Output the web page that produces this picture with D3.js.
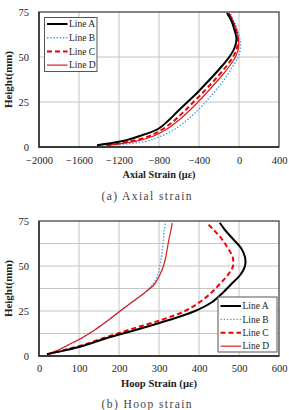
<!DOCTYPE html>
<html><head><meta charset="utf-8">
<script src="https://cdn.jsdelivr.net/npm/d3@7/dist/d3.min.js"></script>
<style>
html,body{margin:0;padding:0;background:#fff;}
svg{display:block;}
svg text{font-family:'Liberation Serif','Tinos','DejaVu Serif',serif !important;}
</style></head>
<body>
<svg id="c" width="289" height="410"></svg>
<script>
// ---- data ----
const seriesNames = ["Line A", "Line B", "Line C", "Line D"];

const axialHeights = [1, 3, 6, 10, 15, 20, 25, 30, 35, 40, 45, 50, 55, 60, 65, 70, 74.5];
const axialA = [-1420, -1190, -1000, -810, -700, -610, -515, -420, -335, -250, -170, -97, -45, -25, -45, -75, -120];
const axialB = [-1290, -940, -780, -640, -520, -420, -335, -255, -180, -115, -60, -8, 15, 10, -15, -50, -90];
const axialC = [-1320, -1100, -900, -760, -640, -545, -455, -365, -280, -200, -125, -60, -20, -12, -30, -65, -105];
const axialD = [-1330, -1050, -860, -720, -600, -500, -410, -325, -245, -165, -95, -35, -5, -5, -25, -60, -100];

const hoopHeights = [1, 3, 6, 10, 15, 20, 25, 30, 35, 40, 45, 50, 55, 60, 65, 70, 74];
const hoopA = [20, 62, 115, 170, 250, 325, 390, 433, 459, 481, 503, 515, 515, 505, 485, 465, 452];
const hoopB = [20, 45, 72, 107, 143, 174, 203, 233, 263, 285, 297, 302, 306, 309, 311, 313, 316];
const hoopC = [20, 58, 108, 162, 232, 305, 365, 402, 430, 452, 472, 485, 484, 472, 457, 437, 419];
const hoopD = [20, 45, 72, 107, 143, 174, 203, 233, 263, 289, 302, 311, 317, 321, 325, 330, 333];

const axialXTicks = [-2000, -1600, -1200, -800, -400, 0, 400];
const hoopXTicks = [0, 100, 200, 300, 400, 500, 600];
const heightTicks = [0, 25, 50, 75];
const hoopMinorY = [12.5, 25, 37.5, 50, 62.5];
const axialGridY = [25, 50];

// ---- styles ----
const styles = {
  "Line A": {stroke: "#000", width: 2, dash: null},
  "Line B": {stroke: "#4a9ad6", width: 1.4, dash: "1.4,1.8"},
  "Line C": {stroke: "#f00000", width: 2, dash: "5,3"},
  "Line D": {stroke: "#d81e1e", width: 1.2, dash: null}
};

const svg = d3.select("#c");
svg.append("rect").attr("width", 289).attr("height", 410).attr("fill", "#fff");

function chart(cfg) {
  const g = svg.append("g");
  const x = d3.scaleLinear().domain(cfg.xDomain).range([39, 279]);
  const y = d3.scaleLinear().domain([0, 75]).range([cfg.bottom, cfg.top]);

  g.selectAll(".vg").data(cfg.xTicks.slice(1, -1)).enter().append("line")
    .attr("x1", d => x(d)).attr("x2", d => x(d))
    .attr("y1", cfg.top).attr("y2", cfg.bottom)
    .attr("stroke", "#c4c4c4").attr("stroke-width", 1);
  g.selectAll(".hg").data(cfg.gridY).enter().append("line")
    .attr("x1", 39).attr("x2", 279)
    .attr("y1", d => y(d)).attr("y2", d => y(d))
    .attr("stroke", "#c4c4c4").attr("stroke-width", 1);

  const xa = g.append("g").attr("transform", `translate(0,${cfg.bottom})`)
    .call(d3.axisBottom(x).tickValues(cfg.xTicks).tickSize(0).tickPadding(cfg.xPad).tickFormat(d3.format("d")));
  xa.select(".domain").remove();
  xa.attr("font-family", null).attr("font-size", null);
  xa.selectAll("text").attr("font-size", 10.5).attr("fill", "#222");
  const ya = g.append("g").attr("transform", "translate(39,0)")
    .call(d3.axisLeft(y).tickValues(heightTicks).tickSize(0).tickPadding(10).tickFormat(d3.format("d")));
  ya.select(".domain").remove();
  ya.attr("font-family", null).attr("font-size", null);
  ya.selectAll("text").attr("font-size", 10.5).attr("fill", "#222");

  const line = d3.line().x(d => x(d[0])).y(d => y(d[1])).curve(d3.curveCatmullRom.alpha(0.5));
  const order = ["Line B", "Line D", "Line C", "Line A"];
  order.forEach(name => {
    const vals = cfg.series[name];
    const pts = vals.map((v, i) => [v, cfg.heights[i]]);
    const s = styles[name];
    g.append("path").attr("d", line(pts)).attr("fill", "none")
      .attr("stroke", s.stroke).attr("stroke-width", s.width)
      .attr("stroke-dasharray", s.dash);
  });

  g.append("rect").attr("x", 39).attr("y", cfg.top).attr("width", 240).attr("height", cfg.bottom - cfg.top)
    .attr("fill", "none").attr("stroke", "#444").attr("stroke-width", 1.3);
  g.append("path").attr("d", `M39,${cfg.top}V${cfg.bottom}H279`).attr("fill", "none")
    .attr("stroke", "#222").attr("stroke-width", 1.3);

  g.append("text").attr("x", 159).attr("y", cfg.xTitleY).attr("text-anchor", "middle")
    .attr("font-size", 10.5).attr("font-weight", "bold").attr("fill", "#222")
    .attr("textLength", cfg.xTitleLen).attr("lengthAdjust", "spacingAndGlyphs")
    .text(cfg.xTitle);
  g.append("text").attr("transform", `translate(12,${(cfg.top + cfg.bottom) / 2}) rotate(-90)`)
    .attr("text-anchor", "middle").attr("font-size", 11).attr("font-weight", "bold").attr("fill", "#222")
    .attr("textLength", 57).attr("lengthAdjust", "spacingAndGlyphs")
    .text("Height(mm)");

  g.append("text").attr("x", 101.5).attr("y", cfg.capY)
    .attr("font-size", 11.5).attr("fill", "#444")
    .attr("textLength", 90).attr("lengthAdjust", "spacing")
    .text(cfg.caption);

  const L = cfg.legend;
  g.append("rect").attr("x", L.x).attr("y", L.y).attr("width", L.w).attr("height", L.h)
    .attr("fill", "#fff").attr("stroke", "#555").attr("stroke-width", 1);
  seriesNames.forEach((name, i) => {
    const yy = L.y + L.first + i * L.step;
    const s = styles[name];
    g.append("line").attr("x1", L.x + 2.5).attr("x2", L.x + 23).attr("y1", yy).attr("y2", yy)
      .attr("stroke", s.stroke).attr("stroke-width", s.width).attr("stroke-dasharray", s.dash);
    g.append("text").attr("x", L.x + 24.5).attr("y", yy + 3.2).attr("font-size", 9.5).attr("fill", "#222")
      .text(name);
  });
}

chart({
  xDomain: [-2000, 400], xTicks: axialXTicks, top: 12, bottom: 147, xPad: 9.5,
  gridY: axialGridY, heights: axialHeights,
  series: {"Line A": axialA, "Line B": axialB, "Line C": axialC, "Line D": axialD},
  xTitle: "Axial Strain (με)", xTitleY: 177.5, xTitleLen: 73,
  caption: "(a)  Axial strain", capY: 200,
  legend: {x: 44.5, y: 17.5, w: 52.5, h: 54, first: 6.5, step: 13.7}
});

chart({
  xDomain: [0, 600], xTicks: hoopXTicks, top: 221, bottom: 356, xPad: 9,
  gridY: hoopMinorY, heights: hoopHeights,
  series: {"Line A": hoopA, "Line B": hoopB, "Line C": hoopC, "Line D": hoopD},
  xTitle: "Hoop Strain (με)", xTitleY: 386.5, xTitleLen: 76,
  caption: "(b)  Hoop strain", capY: 407.5,
  legend: {x: 218, y: 297, w: 59, h: 55, first: 9, step: 13.4}
});
</script>
</body></html>
